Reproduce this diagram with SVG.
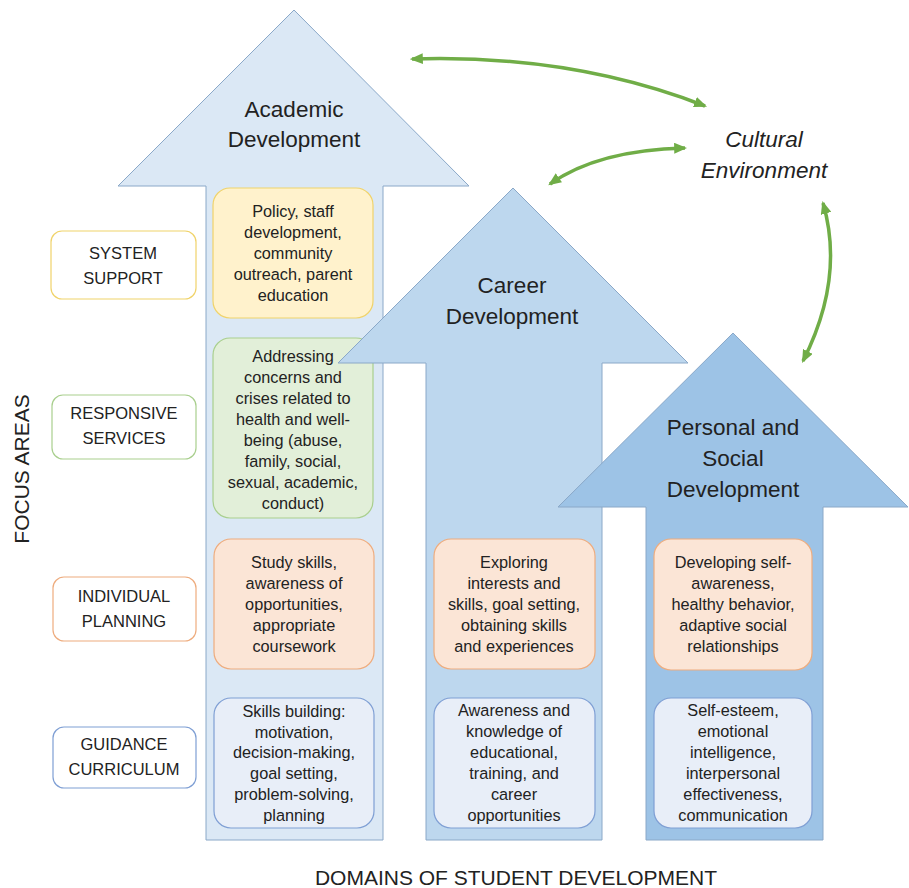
<svg xmlns="http://www.w3.org/2000/svg" width="909" height="888" viewBox="0 0 909 888">
  <style>
    text { font-family: "Liberation Sans", Arial, sans-serif; fill: #222; text-anchor: middle; }
    .title { font-size: 22.5px; }
    .body { font-size: 16.3px; }
    .label { font-size: 16.5px; }
    .axis { font-size: 21px; }
    .arrow { stroke: #8aa8c8; stroke-width: 1; }
    .box { stroke-width: 1.2; }
    .yellow { fill: #fff2cc; stroke: #f0d36a; }
    .green { fill: #e2efd9; stroke: #a9cf8e; }
    .orange { fill: #fbe5d6; stroke: #eeac7e; }
    .blue { fill: #e8eef8; stroke: #7f9fd4; }
    .tag { fill: #ffffff; stroke-width: 1.2; }
    .link { fill: none; stroke: #70ad47; stroke-width: 3.5; marker-start: url(#head); marker-end: url(#head); }
  </style>
  <defs>
    <marker id="head" viewBox="0 0 12 10" refX="10" refY="5" markerWidth="13" markerHeight="11" markerUnits="userSpaceOnUse" orient="auto-start-reverse">
      <path d="M0,0 L12,5 L0,10 z" fill="#70ad47"/>
    </marker>
  </defs>
  <rect width="909" height="888" fill="#ffffff"/>

  <!-- Academic domain -->
  <g id="academic">
    <path class="arrow" d="M294,10 L469,186 L383,186 L383,840 L206,840 L206,186 L118,186 Z" fill="#dbe8f5"/>
    <text class="title" x="294" y="117">Academic</text>
    <text class="title" x="294" y="147">Development</text>
  </g>
  <g id="academic-system">
    <rect class="box yellow" x="213" y="188" width="160" height="130" rx="17"/>
    <text class="body" x="293" y="217">Policy, staff</text>
    <text class="body" x="293" y="238">development,</text>
    <text class="body" x="293" y="259">community</text>
    <text class="body" x="293" y="280">outreach, parent</text>
    <text class="body" x="293" y="301">education</text>
  </g>
  <g id="academic-responsive">
    <rect class="box green" x="213" y="338" width="160" height="180" rx="17"/>
    <text class="body" x="293" y="362">Addressing</text>
    <text class="body" x="293" y="383">concerns and</text>
    <text class="body" x="293" y="404">crises related to</text>
    <text class="body" x="293" y="425">health and well-</text>
    <text class="body" x="293" y="446">being (abuse,</text>
    <text class="body" x="293" y="467">family, social,</text>
    <text class="body" x="293" y="488">sexual, academic,</text>
    <text class="body" x="293" y="509">conduct)</text>
  </g>
  <g id="academic-planning">
    <rect class="box orange" x="214" y="539" width="160" height="130" rx="17"/>
    <text class="body" x="294" y="568">Study skills,</text>
    <text class="body" x="294" y="589">awareness of</text>
    <text class="body" x="294" y="610">opportunities,</text>
    <text class="body" x="294" y="631">appropriate</text>
    <text class="body" x="294" y="652">coursework</text>
  </g>
  <g id="academic-curriculum">
    <rect class="box blue" x="214" y="698" width="160" height="130" rx="17"/>
    <text class="body" x="294" y="717">Skills building:</text>
    <text class="body" x="294" y="738">motivation,</text>
    <text class="body" x="294" y="758">decision-making,</text>
    <text class="body" x="294" y="779">goal setting,</text>
    <text class="body" x="294" y="800">problem-solving,</text>
    <text class="body" x="294" y="821">planning</text>
  </g>

  <!-- Career domain -->
  <g id="career">
    <path class="arrow" d="M513,188 L688,363 L602,363 L602,840 L426,840 L426,363 L338,363 Z" fill="#bdd7ee"/>
    <text class="title" x="512" y="293">Career</text>
    <text class="title" x="512" y="324">Development</text>
  </g>
  <g id="career-planning">
    <rect class="box orange" x="434" y="539" width="161" height="130" rx="17"/>
    <text class="body" x="514" y="568">Exploring</text>
    <text class="body" x="514" y="589">interests and</text>
    <text class="body" x="514" y="610">skills, goal setting,</text>
    <text class="body" x="514" y="631">obtaining skills</text>
    <text class="body" x="514" y="652">and experiences</text>
  </g>
  <g id="career-curriculum">
    <rect class="box blue" x="434" y="698" width="161" height="130" rx="17"/>
    <text class="body" x="514" y="716">Awareness and</text>
    <text class="body" x="514" y="737">knowledge of</text>
    <text class="body" x="514" y="758">educational,</text>
    <text class="body" x="514" y="779">training, and</text>
    <text class="body" x="514" y="800">career</text>
    <text class="body" x="514" y="821">opportunities</text>
  </g>

  <!-- Personal and social domain -->
  <g id="personal">
    <path class="arrow" d="M733,333 L908,507 L823,507 L823,840 L646,840 L646,507 L558,507 Z" fill="#9dc3e6"/>
    <text class="title" x="733" y="435">Personal  and</text>
    <text class="title" x="733" y="466">Social</text>
    <text class="title" x="733" y="497">Development</text>
  </g>
  <g id="personal-planning">
    <rect class="box orange" x="654" y="539" width="158" height="131" rx="17"/>
    <text class="body" x="733" y="568">Developing self-</text>
    <text class="body" x="733" y="589">awareness,</text>
    <text class="body" x="733" y="610">healthy behavior,</text>
    <text class="body" x="733" y="631">adaptive social</text>
    <text class="body" x="733" y="652">relationships</text>
  </g>
  <g id="personal-curriculum">
    <rect class="box blue" x="654" y="698" width="158" height="130" rx="17"/>
    <text class="body" x="733" y="716">Self-esteem,</text>
    <text class="body" x="733" y="737">emotional</text>
    <text class="body" x="733" y="758">intelligence,</text>
    <text class="body" x="733" y="779">interpersonal</text>
    <text class="body" x="733" y="800">effectiveness,</text>
    <text class="body" x="733" y="821">communication</text>
  </g>

  <!-- Focus area labels -->
  <g id="system-support">
    <rect class="tag" x="51" y="231" width="145" height="68" rx="11" stroke="#f0d36a"/>
    <text class="label" x="123" y="259">SYSTEM</text>
    <text class="label" x="123" y="284">SUPPORT</text>
  </g>
  <g id="responsive-services">
    <rect class="tag" x="52" y="395" width="144" height="64" rx="11" stroke="#a9cf8e"/>
    <text class="label" x="124" y="419">RESPONSIVE</text>
    <text class="label" x="124" y="444">SERVICES</text>
  </g>
  <g id="individual-planning">
    <rect class="tag" x="53" y="577" width="143" height="64" rx="11" stroke="#eeac7e"/>
    <text class="label" x="124" y="602">INDIVIDUAL</text>
    <text class="label" x="124" y="627">PLANNING</text>
  </g>
  <g id="guidance-curriculum">
    <rect class="tag" x="53" y="727" width="143" height="61" rx="11" stroke="#7f9fd4"/>
    <text class="label" x="124" y="750">GUIDANCE</text>
    <text class="label" x="124" y="775">CURRICULUM</text>
  </g>

  <!-- Cultural environment -->
  <g id="cultural-environment">
    <text class="title" x="764" y="147" font-style="italic">Cultural</text>
    <text class="title" x="764" y="178" font-style="italic">Environment</text>
  </g>

  <!-- Axis captions -->
  <g id="axes">
    <text class="axis" transform="translate(29,469) rotate(-90)">FOCUS AREAS</text>
    <text class="axis" x="516" y="885">DOMAINS OF STUDENT DEVELOPMENT</text>
  </g>

  <!-- Two-way links to the cultural environment -->
  <g id="connectors">
    <path class="link" d="M412,59 Q572,54 705,106"/>
    <path class="link" d="M550,184 Q598,150 685,148"/>
    <path class="link" d="M823,203 Q845,278 803,361"/>
  </g>
</svg>
